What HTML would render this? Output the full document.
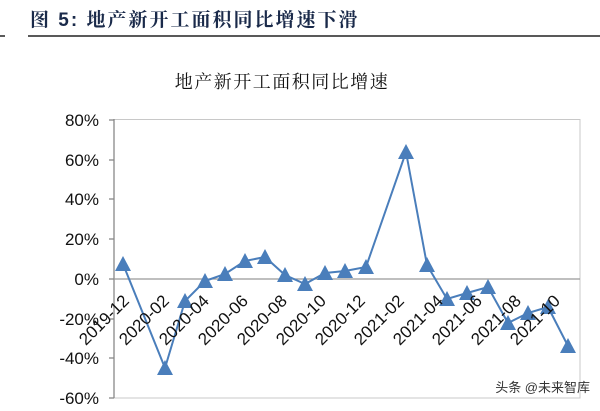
<!DOCTYPE html>
<html><head><meta charset="utf-8"><style>
body{margin:0;background:#fff;width:600px;height:406px;overflow:hidden}
</style></head><body>
<svg width="600" height="406" xmlns="http://www.w3.org/2000/svg" font-family="'Liberation Sans','Noto Sans CJK SC',sans-serif">
<text x="30" y="26" font-size="19" font-weight="bold" fill="#1a2a4a" letter-spacing="2" font-family="'Liberation Sans','Noto Serif CJK SC',serif">图 5:  地产新开工面积同比增速下滑</text>
<line x1="0" y1="36" x2="5" y2="36" stroke="#222" stroke-width="1.5"/>
<line x1="28" y1="36" x2="600" y2="36" stroke="#222" stroke-width="1.5"/>
<text x="282" y="88" font-size="18" text-anchor="middle" fill="#111" letter-spacing="1.5" font-family="'Noto Serif CJK SC','Noto Sans CJK SC',serif">地产新开工面积同比增速</text>
<rect x="114" y="119.5" width="466" height="278.5" fill="none" stroke="#c8c8c8"/>
<line x1="114" y1="119" x2="114" y2="398" stroke="#888" stroke-width="1.3"/>
<line x1="114" y1="279" x2="580" y2="279" stroke="#999" stroke-width="1.3"/>
<g stroke="#888" stroke-width="1.3">
<line x1="109" y1="120" x2="114" y2="120"/><line x1="109" y1="160" x2="114" y2="160"/><line x1="109" y1="199" x2="114" y2="199"/><line x1="109" y1="239" x2="114" y2="239"/><line x1="109" y1="279" x2="114" y2="279"/><line x1="109" y1="319" x2="114" y2="319"/><line x1="109" y1="358" x2="114" y2="358"/><line x1="109" y1="398" x2="114" y2="398"/>
</g>
<g font-size="17" fill="#111" text-anchor="end">
<text x="99" y="126">80%</text><text x="99" y="166">60%</text><text x="99" y="205">40%</text><text x="99" y="245">20%</text><text x="99" y="285">0%</text><text x="99" y="325">-20%</text><text x="99" y="364">-40%</text><text x="99" y="404">-60%</text>
</g>
<polyline fill="none" stroke="#4a7ebb" stroke-width="2" points="123,264 165,368 185,301 205,281 225,274 245,261 265,257 285,275 305,284 325,273 345,271 366,267 406,152 427,265 447,299 467,293 488,287 508,323 528,313 548,307 568,346"/>
<g fill="#4a7ebb">
<polygon points="123,256 115,271 131,271"/><polygon points="165,360 157,375 173,375"/><polygon points="185,293 177,308 193,308"/><polygon points="205,273 197,288 213,288"/><polygon points="225,266 217,281 233,281"/><polygon points="245,253 237,268 253,268"/><polygon points="265,249 257,264 273,264"/><polygon points="285,267 277,282 293,282"/><polygon points="305,276 297,291 313,291"/><polygon points="325,265 317,280 333,280"/><polygon points="345,263 337,278 353,278"/><polygon points="366,259 358,274 374,274"/><polygon points="406,144 398,159 414,159"/><polygon points="427,257 419,272 435,272"/><polygon points="447,291 439,306 455,306"/><polygon points="467,285 459,300 475,300"/><polygon points="488,279 480,294 496,294"/><polygon points="508,315 500,330 516,330"/><polygon points="528,305 520,320 536,320"/><polygon points="548,299 540,314 556,314"/><polygon points="568,338 560,353 576,353"/>
</g>
<g font-size="17" fill="#111" text-anchor="end">
<text transform="translate(130,302) rotate(-45)">2019-12</text>
<text transform="translate(170,302) rotate(-45)">2020-02</text>
<text transform="translate(210,302) rotate(-45)">2020-04</text>
<text transform="translate(249,302) rotate(-45)">2020-06</text>
<text transform="translate(288,302) rotate(-45)">2020-08</text>
<text transform="translate(327,302) rotate(-45)">2020-10</text>
<text transform="translate(366,302) rotate(-45)">2020-12</text>
<text transform="translate(405,302) rotate(-45)">2021-02</text>
<text transform="translate(444,302) rotate(-45)">2021-04</text>
<text transform="translate(483,302) rotate(-45)">2021-06</text>
<text transform="translate(522,302) rotate(-45)">2021-08</text>
<text transform="translate(561,302) rotate(-45)">2021-10</text>
</g>
<text x="590" y="392" font-size="13" text-anchor="end" fill="#333">头条 @未来智库</text>
</svg>
</body></html>
